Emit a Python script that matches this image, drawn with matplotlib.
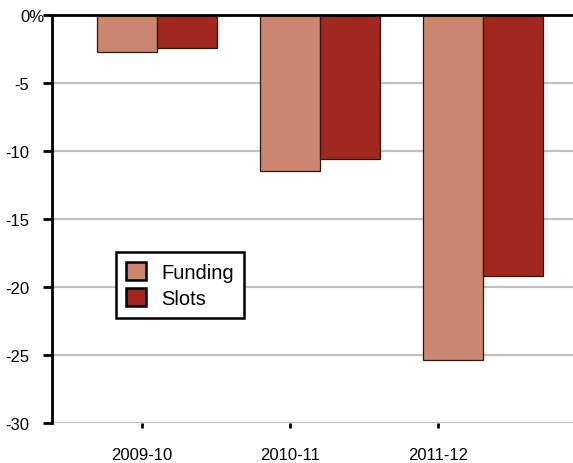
import matplotlib.pyplot as plt
import matplotlib.transforms as mtransforms
import numpy as np

plt.rcParams["font.family"] = ["Liberation Sans", "DejaVu Sans"]

years = ["2009-10", "2010-11", "2011-12"]
funding = [-2.7, -11.5, -25.4]
slots = [-2.4, -10.6, -19.2]
yticks = [0, -5, -10, -15, -20, -25, -30]
ylabels = ["0%", "-5", "-10", "-15", "-20", "-25", "-30"]

fig = plt.figure(figsize=(5.73, 4.64), dpi=100)
ax = fig.add_axes([52 / 573, 40 / 464, 521 / 573, 408 / 464])

x = np.arange(len(years))
w = 0.368
ax.bar(x - w / 2, funding, w, color="#cb8670", edgecolor="#2a1a14", linewidth=0.9,
       label="Funding", zorder=3)
ax.bar(x + w / 2, slots, w, color="#a0281f", edgecolor="#2a1a14", linewidth=0.9,
       label="Slots", zorder=3)

ax.set_xlim(-0.644, 2.552)
ax.set_ylim(-30, 0)
ax.set_yticks(yticks)
ax.set_yticklabels(ylabels, fontsize=12)
# category ticks sit a little left of the bar groups in the original
ax.set_xticks(x * 0.908 - 0.092)
ax.set_xticklabels(years, fontsize=12)

for y in yticks[1:]:
    ax.axhline(y, color="#c0c0c0", linewidth=1.6, zorder=1)

for side in ["right", "bottom"]:
    ax.spines[side].set_visible(False)
ax.spines["left"].set_linewidth(2)
ax.spines["top"].set_linewidth(2)
ax.spines["top"].set_zorder(4)
ax.tick_params(axis="y", length=6.5, width=2, pad=10)
ax.tick_params(axis="x", length=3.5, width=2, pad=14, direction="out")

# let the % sign hang past the number column
lab0 = ax.yaxis.get_major_ticks()[0].label1
lab0.set_transform(lab0.get_transform() + mtransforms.ScaledTranslation(15 / 100, 0, fig.dpi_scale_trans))

leg = ax.legend(loc="upper left", bbox_to_anchor=(0.123, 0.419), fontsize=14.5,
                frameon=True, fancybox=False, edgecolor="black", framealpha=1,
                handlelength=1.0, handleheight=1.0, handletextpad=0.75,
                borderpad=0.5, labelspacing=0.3, borderaxespad=0)
leg.get_frame().set_linewidth(1.8)
for h in leg.legend_handles:
    h.set_edgecolor("black")
    h.set_linewidth(1.8)

fig.savefig("out.png", dpi=100)
